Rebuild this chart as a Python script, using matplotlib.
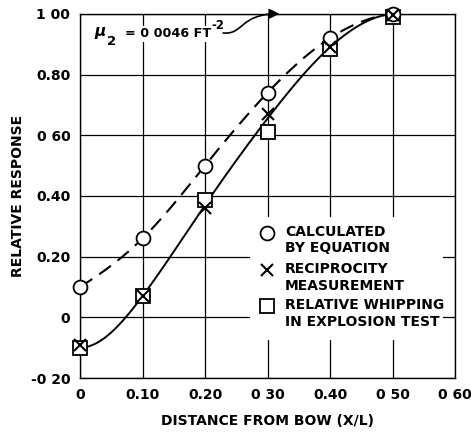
import numpy as np
import matplotlib
matplotlib.use("Agg")
import matplotlib.pyplot as plt
from matplotlib.path import Path
from matplotlib.patches import FancyArrowPatch, Rectangle

plt.rcParams['font.family'] = ['DejaVu Sans']
plt.rcParams['font.weight'] = 'bold'
plt.rcParams['axes.labelweight'] = 'bold'
plt.rcParams['mathtext.fontset'] = 'dejavusans'

# distance from bow (X/L)
x = [0.0, 0.1, 0.2, 0.3, 0.4, 0.5]
calculated = [0.10, 0.26, 0.50, 0.74, 0.92, 1.00]
reciprocity = [-0.09, 0.07, 0.36, 0.67, 0.89, 0.995]
whipping = [-0.10, 0.07, 0.385, 0.61, 0.885, 0.99]
# faired curve through the measurements
measured_fit = [-0.10, 0.07, 0.37, 0.655, 0.89, 1.00]

xticks = [0, 0.1, 0.2, 0.3, 0.4, 0.5, 0.6]
xticklabels = ["0", "0.10", "0.20", "0 30", "0.40", "0 50", "0 60"]
yticks = [-0.2, 0, 0.2, 0.4, 0.6, 0.8, 1.0]
yticklabels = ["-0 20", "0", "0.20", "0.40", "0 60", "0.80", "1 00"]


def clamped_spline(xs, ys, d0, d1, n=200):
    # cubic spline with given end slopes
    xs = np.asarray(xs, float)
    ys = np.asarray(ys, float)
    m = len(xs)
    h = np.diff(xs)
    A = np.zeros((m, m))
    b = np.zeros(m)
    A[0, 0], A[0, 1] = 2 * h[0], h[0]
    b[0] = 6 * ((ys[1] - ys[0]) / h[0] - d0)
    A[-1, -2], A[-1, -1] = h[-1], 2 * h[-1]
    b[-1] = 6 * (d1 - (ys[-1] - ys[-2]) / h[-1])
    for i in range(1, m - 1):
        A[i, i - 1] = h[i - 1]
        A[i, i] = 2 * (h[i - 1] + h[i])
        A[i, i + 1] = h[i]
        b[i] = 6 * ((ys[i + 1] - ys[i]) / h[i] - (ys[i] - ys[i - 1]) / h[i - 1])
    M = np.linalg.solve(A, b)
    xx = np.linspace(xs[0], xs[-1], n)
    yy = np.empty_like(xx)
    for k, t in enumerate(xx):
        i = min(np.searchsorted(xs, t, side='right') - 1, m - 2)
        a, c = xs[i], xs[i + 1]
        hi = h[i]
        yy[k] = (M[i] * (c - t) ** 3 / (6 * hi) + M[i + 1] * (t - a) ** 3 / (6 * hi)
                 + (ys[i] / hi - M[i] * hi / 6) * (c - t)
                 + (ys[i + 1] / hi - M[i + 1] * hi / 6) * (t - a))
    return xx, yy


fig = plt.figure(figsize=(4.71, 4.32), dpi=100)
ax = fig.add_axes([0.170, 0.125, 0.796, 0.843])

ax.set_xlim(0, 0.6)
ax.set_ylim(-0.2, 1.0)
ax.set_xticks(xticks)
ax.set_xticklabels(xticklabels)
ax.set_yticks(yticks)
ax.set_yticklabels(yticklabels)
ax.tick_params(length=0, labelsize=10, pad=7)
ax.grid(True, color='black', linewidth=0.9)
ax.set_axisbelow(True)
for s in ax.spines.values():
    s.set_linewidth(1.0)

cx, cy = clamped_spline(x, calculated, 1.3, 0.25)
ax.plot(cx, cy, color='black', lw=1.5, dashes=(7, 4), zorder=3)
mx, my = clamped_spline(x, measured_fit, 0.0, 0.2)
ax.plot(mx, my, color='black', lw=1.4, zorder=3)

ms = dict(color='black', markerfacecolor='white', markeredgewidth=1.3,
          markersize=10, linestyle='none', zorder=4, clip_on=False)
xs = dict(marker='x', color='black', markersize=8, markeredgewidth=1.5,
          linestyle='none', zorder=5, clip_on=False)
ax.plot(x, whipping, marker='s', **ms)
ax.plot(x, calculated, marker='o', **ms)
ax.plot(x, reciprocity, **xs)

# key, drawn on a blank patch over the grid
ax.add_patch(Rectangle((0.272, -0.075), 0.309, 0.406, facecolor='white',
                       edgecolor='none', zorder=2))
key = [('o', 0.278, "CALCULATED\nBY EQUATION"),
       ('x', 0.156, "RECIPROCITY\nMEASUREMENT"),
       ('s', 0.037, "RELATIVE WHIPPING\nIN EXPLOSION TEST")]
for mk, ky, label in key:
    if mk == 'x':
        ax.plot([0.299], [ky], **xs)
    else:
        ax.plot([0.299], [ky], marker=mk, **ms)
    ax.text(0.328, ky + 0.027, label, fontsize=10, va='top', ha='left',
            linespacing=1.25, zorder=5)

# damping coefficient note with arrow to the top edge
box = dict(facecolor='white', edgecolor='none', pad=1)
ax.text(0.032, 0.937, r"$\mu$", fontsize=11, ha='center', va='center', zorder=5, bbox=box)
ax.text(0.050, 0.909, "2", fontsize=9.5, ha='center', va='center', zorder=5, bbox=box)
ax.text(0.072, 0.934, "= 0 0046 FT", fontsize=9.2, ha='left', va='center', zorder=5, bbox=box)
ax.text(0.210, 0.962, "-2", fontsize=8.5, ha='left', va='center', zorder=5)

verts = [(0.229, 0.937), (0.262, 0.93), (0.255, 1.0), (0.319, 1.0)]
arrow_path = Path(verts, [Path.MOVETO, Path.CURVE4, Path.CURVE4, Path.CURVE4])
ax.add_patch(FancyArrowPatch(path=arrow_path, arrowstyle='-|>,head_length=6,head_width=3',
                             color='black', lw=1.2, zorder=5, clip_on=False))

ax.set_xlabel("DISTANCE FROM BOW (X/L)", fontsize=10, labelpad=9)
ax.set_ylabel("RELATIVE RESPONSE", fontsize=10, labelpad=4)

fig.savefig("out.png", dpi=100)
